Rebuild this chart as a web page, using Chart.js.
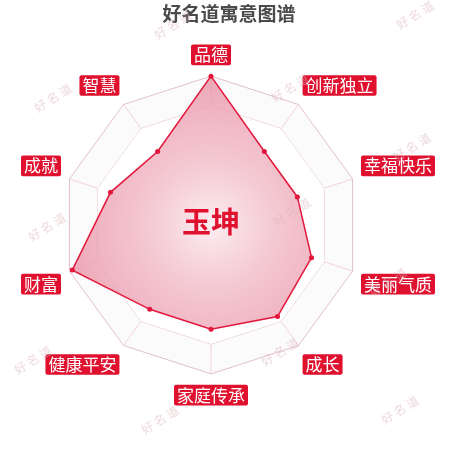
<!DOCTYPE html>
<html>
<head>
<meta charset="utf-8">
<script src="https://cdn.jsdelivr.net/npm/chart.js@4/dist/chart.umd.min.js"></script>
<style>
  html, body { margin: 0; padding: 0; background: #fff; }
  #wrap { width: 450px; height: 450px; }
</style>
</head>
<body>
<div id="wrap"><canvas id="radar" width="450" height="450"></canvas></div>
<script>
// DATA
const chartTitle = "好名道寓意图谱";
const nameText = "玉坤";
const categories = ["品德", "创新独立", "幸福快乐", "美丽气质", "成长", "家庭传承", "健康平安", "财富", "成就", "智慧"];
const scores = [100, 61, 61, 71, 76, 70, 70, 98, 71, 61];
const watermarkText = "好名道";

const RED = "#e0102f";

// radial fill, light in the middle and deeper pink at the rim
function radarFill(context) {
  const chart = context.chart;
  const scale = chart.scales.r;
  if (!scale || !scale.drawingArea) return "rgba(230,120,145,0.55)";
  const g = chart.ctx.createRadialGradient(scale.xCenter, scale.yCenter, 0, scale.xCenter, scale.yCenter, scale.drawingArea);
  g.addColorStop(0, "rgba(252,238,242,0.95)");
  g.addColorStop(0.35, "rgba(244,198,208,0.85)");
  g.addColorStop(1, "rgba(232,140,160,0.75)");
  return g;
}

// very faint alternating rings behind the chart
const ringBands = {
  id: "ringBands",
  beforeDatasetsDraw(chart) {
    const scale = chart.scales.r;
    const ctx = chart.ctx;
    const n = categories.length;
    ctx.save();
    for (let i = 5; i >= 1; i--) {
      const r = scale.getDistanceFromCenterForValue(i * 20);
      ctx.beginPath();
      for (let k = 0; k < n; k++) {
        const p = scale.getPointPosition(k, r);
        if (k === 0) ctx.moveTo(p.x, p.y); else ctx.lineTo(p.x, p.y);
      }
      ctx.closePath();
      ctx.fillStyle = i % 2 ? "rgba(242,238,242,0.22)" : "#ffffff";
      ctx.fill();
    }
    ctx.restore();
  }
};

// big name in the middle
const centerName = {
  id: "centerName",
  afterDatasetsDraw(chart) {
    const scale = chart.scales.r;
    const ctx = chart.ctx;
    ctx.save();
    ctx.font = "bold 29px 'Noto Sans CJK SC'";
    ctx.fillStyle = RED;
    ctx.textAlign = "center";
    ctx.textBaseline = "middle";
    ctx.fillText(nameText, scale.xCenter, scale.yCenter - 3);
    ctx.restore();
  }
};

// tilted watermark stamps
const watermark = {
  id: "watermark",
  afterDraw(chart) {
    const ctx = chart.ctx;
    const spots = [[173, 25], [415, 15], [53, 98], [290, 88], [412, 147], [47, 227], [292, 212], [388, 282], [33, 360], [280, 352], [160, 420], [400, 410]];
    ctx.save();
    ctx.font = "12px 'Noto Sans CJK SC'";
    ctx.fillStyle = "rgba(220,180,186,0.5)";
    ctx.textAlign = "center";
    ctx.textBaseline = "middle";
    spots.forEach(([x, y]) => {
      ctx.save();
      ctx.translate(x, y);
      ctx.rotate(-32 * Math.PI / 180);
      ctx.fillText(watermarkText.split("").join(" "), 0, 0);
      ctx.restore();
    });
    ctx.restore();
  }
};

const ctx = document.getElementById("radar");

new Chart(ctx, {
  type: "radar",
  data: {
    labels: categories,
    datasets: [{
      label: nameText,
      data: scores,
      borderColor: "#e3173c",
      borderWidth: 1.5,
      backgroundColor: radarFill,
      fill: true,
      pointRadius: 2.5,
      pointBackgroundColor: "#e3173c",
      pointBorderWidth: 0
    }]
  },
  options: {
    responsive: false,
    animation: false,
    layout: {
      padding: { top: 0, bottom: 40, left: 8, right: 0 }
    },
    plugins: {
      legend: { display: false },
      tooltip: { enabled: false },
      title: {
        display: true,
        text: chartTitle,
        color: "#4a4a4a",
        font: { size: 19, weight: "bold", family: "'Noto Sans CJK SC'" },
        padding: { top: 2, bottom: 17 }
      }
    },
    scales: {
      r: {
        min: 0,
        max: 100,
        ticks: { display: false, stepSize: 20 },
        grid: {
          color: "rgba(215,170,180,0.8)",
          borderDash: [1, 3],
          lineWidth: 1
        },
        angleLines: {
          color: "rgba(240,190,200,0.8)",
          lineWidth: 1
        },
        pointLabels: {
          color: "#fff",
          backdropColor: RED,
          backdropPadding: { top: 1, bottom: 1, left: 3, right: 3 },
          borderRadius: 2,
          padding: 12,
          font: { size: 17, lineHeight: 1.1, family: "'Noto Sans CJK SC'" }
        }
      }
    }
  },
  plugins: [ringBands, centerName, watermark]
});
</script>
</body>
</html>
